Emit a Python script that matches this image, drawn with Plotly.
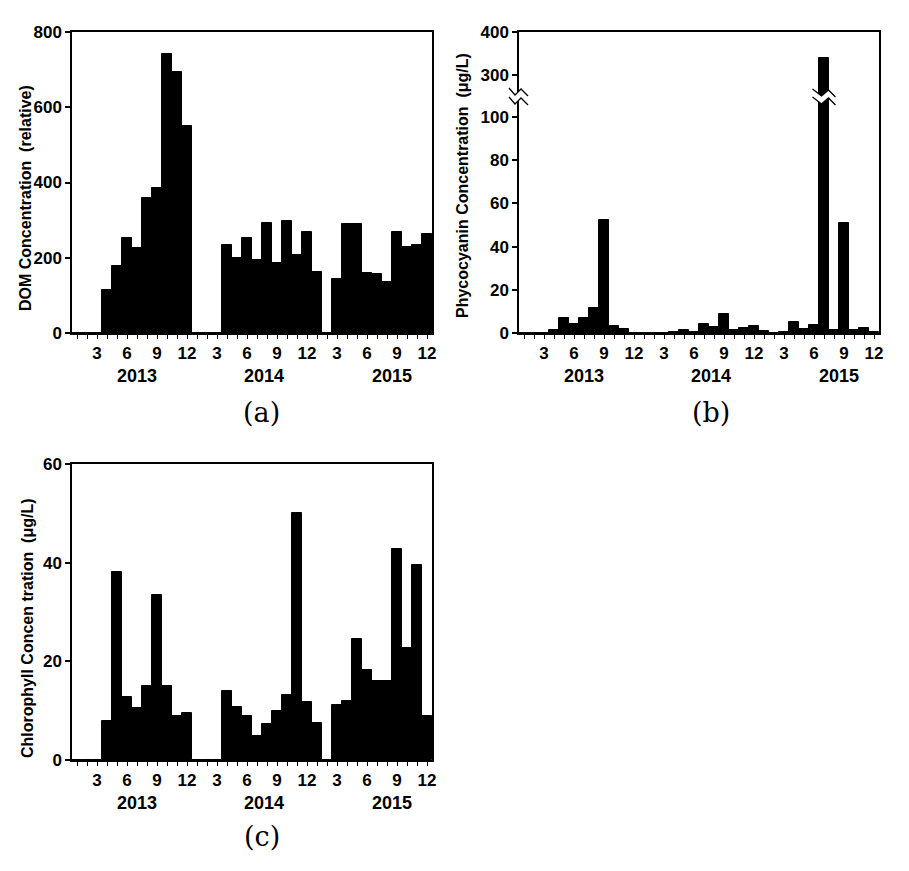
import plotly.graph_objects as go

W, H = 909, 871

months = list(range(1, 37))
month_ticks = [3, 6, 9, 12, 15, 18, 21, 24, 27, 30, 33, 36]
month_tick_text = ["3", "6", "9", "12"] * 3
years = ["2013", "2014", "2015"]
year_pos = [7.0, 19.7, 32.5]

dom = [0, 0, 0, 113, 177, 252, 226, 359, 385, 742, 694, 550,
       0, 0, 0, 233, 199, 252, 194, 293, 187, 297, 208, 269,
       162, 0, 143, 289, 289, 159, 157, 136, 269, 229, 234, 263]

phy = [0, 0, 0, 1.5, 6.8, 4.2, 6.8, 11.5, 52.5, 3.2, 1.8, 0,
       0, 0, 0, 0.5, 1.2, 0.6, 4.0, 2.8, 9.0, 1.5, 2.5, 3.3,
       0.8, 0, 0.5, 5.0, 1.8, 3.5, 340, 1.3, 51, 1.5, 2.5, 0.3]

chl = [0, 0, 0, 8.0, 38.2, 12.7, 10.5, 15.0, 33.5, 15.0, 9.0, 9.5,
       0, 0, 0, 14.0, 10.8, 9.0, 4.8, 7.2, 9.9, 13.2, 50.1, 11.7,
       7.5, 0, 11.1, 11.9, 24.6, 18.3, 16.0, 16.0, 42.8, 22.7, 39.5, 8.9]

dom_ticks = [0, 200, 400, 600, 800]
phy_low_ticks = [0, 20, 40, 60, 80, 100]
phy_high_ticks = [300, 400]
chl_ticks = [0, 20, 40, 60]

titles = ["DOM Concentration  (relative)",
          "Phycocyanin Concentration  (\u03bcg/L)",
          "Chlorophyll Concen tration  (\u03bcg/L)"]
panel_labels = ["(a)", "(b)", "(c)"]


def fx(p):
    return p / W


def fy(p):
    return 1 - p / H


FONT = "Liberation Sans, Arial, sans-serif"
tickfont = dict(family=FONT, size=17, color="black", weight="bold")

fig = go.Figure()

bar_style = dict(marker=dict(color="black", line=dict(color="black", width=1)),
                 width=1, showlegend=False, hoverinfo="x+y")

fig.add_trace(go.Bar(x=months, y=dom, xaxis="x", yaxis="y", **bar_style))
fig.add_trace(go.Bar(x=months, y=phy, xaxis="x2", yaxis="y2", **bar_style))
fig.add_trace(go.Bar(x=months, y=phy, xaxis="x3", yaxis="y3", **bar_style))
fig.add_trace(go.Bar(x=months, y=chl, xaxis="x4", yaxis="y4", **bar_style))

xcommon = dict(range=[0.5, 36.5], showline=True, linecolor="black", linewidth=1.5,
               ticks="outside", ticklen=4, tickwidth=1.2, tickcolor="black",
               tickvals=month_ticks, ticktext=month_tick_text, tickfont=tickfont,
               showgrid=False, zeroline=False, automargin=False,
               minor=dict(tickvals=months, ticks="outside", ticklen=4,
                          tickwidth=1, tickcolor="black", showgrid=False))
ycommon = dict(showline=True, linecolor="black", linewidth=1.5, mirror=True,
               ticks="outside", ticklen=5, tickwidth=1.5, tickcolor="black",
               tickfont=tickfont, showgrid=False, zeroline=False, automargin=False)

# panel (a)
fig.update_layout(
    xaxis=dict(domain=[fx(72), fx(432)], anchor="y", mirror=True, **xcommon),
    yaxis=dict(domain=[fy(333), fy(32)], anchor="x", range=[0, 800],
               tickvals=dom_ticks, **ycommon),
)

# panel (b) - broken axis
split = 97
fig.update_layout(
    xaxis2=dict(domain=[fx(519), fx(879)], anchor="y2", mirror=False, **xcommon),
    yaxis2=dict(domain=[fy(333), fy(split)], anchor="x2",
                range=[0, (333 - split) / 2.16], tickvals=phy_low_ticks, **ycommon),
    xaxis3=dict(domain=[fx(519), fx(879)], anchor="y3", range=[0.5, 36.5],
                side="top", showline=True, linecolor="black", linewidth=1.5,
                showticklabels=False, ticks="", showgrid=False, zeroline=False,
                automargin=False),
    yaxis3=dict(domain=[fy(split), fy(32)], anchor="x3",
                range=[300 - (split - 75) / 0.427, 400], tickvals=phy_high_ticks,
                **ycommon),
)

# panel (c)
fig.update_layout(
    xaxis4=dict(domain=[fx(72), fx(432)], anchor="y4", mirror=True, **xcommon),
    yaxis4=dict(domain=[fy(760), fy(464)], anchor="x4", range=[0, 60],
                tickvals=chl_ticks, **ycommon),
)

annotations = []
# year labels
for xa, ypix in [("x", 376), ("x2", 376), ("x4", 803)]:
    for yr, xp in zip(years, year_pos):
        annotations.append(dict(x=xp, y=fy(ypix), xref=xa, yref="paper",
                                text=yr, showarrow=False,
                                font=dict(family=FONT, size=18, color="black",
                                          weight="bold"),
                                xanchor="center", yanchor="middle"))
# panel labels
for lab, xp, yp in zip(panel_labels, [261, 711, 262], [412, 412, 836]):
    annotations.append(dict(x=fx(xp), y=fy(yp), xref="paper", yref="paper",
                            text=lab, showarrow=False,
                            font=dict(family="DejaVu Serif, serif", size=27,
                                      color="black"),
                            xanchor="center", yanchor="middle"))
# y titles
for t, xp, yp in zip(titles, [25, 463, 27], [198, 186, 628]):
    annotations.append(dict(x=fx(xp), y=fy(yp), xref="paper", yref="paper",
                            text=t, textangle=-90, showarrow=False,
                            font=dict(family=FONT, size=16, color="black",
                                      weight="bold"),
                            xanchor="center", yanchor="middle"))

shapes = []


def zig(xs, ys):
    return "M " + " L ".join(f"{x},{y}" for x, y in zip(xs, ys))


# axis break on left axis of (b)
ax_x = [fx(509), fx(515), fx(521), fx(528)]
up_y = [fy(88), fy(95), fy(89), fy(96)]
lo_y = [fy(97), fy(104), fy(98), fy(105)]
fill = zig(ax_x + ax_x[::-1], up_y + lo_y[::-1]) + " Z"
shapes.append(dict(type="path", path=fill, xref="paper", yref="paper",
                   fillcolor="white", line=dict(width=0), layer="above"))
for ys in (up_y, lo_y):
    shapes.append(dict(type="path", path=zig(ax_x, ys), xref="paper",
                       yref="paper", line=dict(color="black", width=1.3),
                       layer="above"))

# break on the tall bar (July 2015)
bx = [31 - 1.15, 31 - 0.25, 31 + 0.45, 31 + 1.15]
bup = [fy(89), fy(96), fy(90), fy(97)]
blo = [fy(97), fy(104), fy(98), fy(105)]
fill2 = zig(bx + bx[::-1], bup + blo[::-1]) + " Z"
shapes.append(dict(type="path", path=fill2, xref="x2", yref="paper",
                   fillcolor="white", line=dict(width=0), layer="above"))
for ys in (bup, blo):
    shapes.append(dict(type="path", path=zig(bx, ys), xref="x2",
                       yref="paper", line=dict(color="black", width=1.3),
                       layer="above"))

fig.update_layout(
    template="none",
    width=W, height=H, margin=dict(l=0, r=0, t=0, b=0, pad=0, autoexpand=False),
    paper_bgcolor="white", plot_bgcolor="white",
    font=dict(family=FONT, color="black"),
    bargap=0, showlegend=False,
    annotations=annotations, shapes=shapes,
)

fig.write_html("out.html")
